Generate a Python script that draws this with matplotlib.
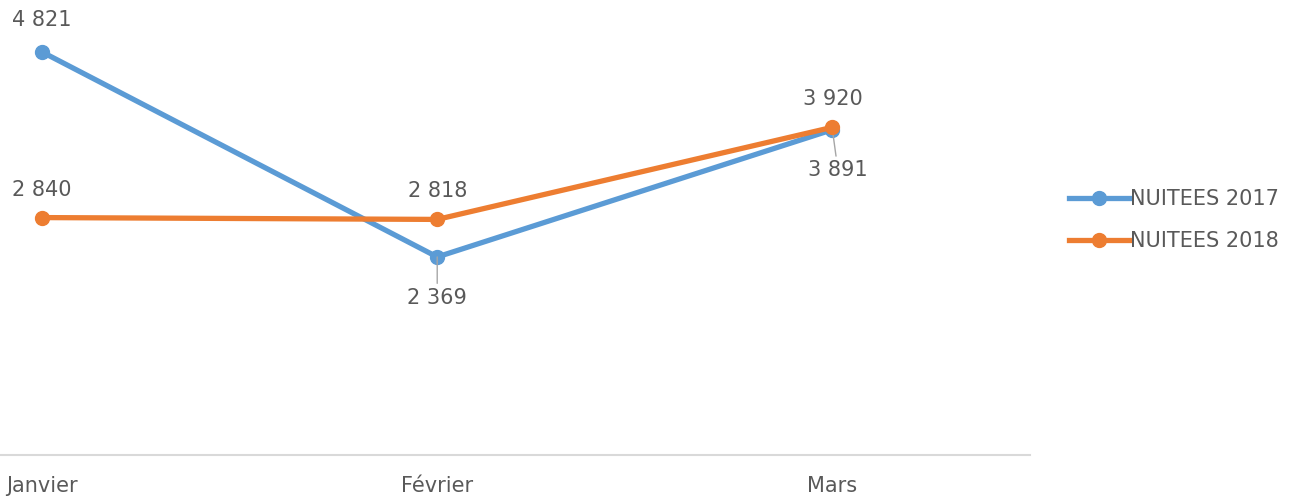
import matplotlib.pyplot as plt

# données
mois = ['Janvier', 'Février', 'Mars']
nuitees_2017 = [4821, 2369, 3891]
nuitees_2018 = [2840, 2818, 3920]
labels_2017 = ['4 821', '2 369', '3 891']
labels_2018 = ['2 840', '2 818', '3 920']

bleu = '#5B9BD5'
orange = '#ED7D31'
gris_txt = '#595959'

plt.rcParams['font.family'] = ['DejaVu Sans']

fig = plt.figure(figsize=(12.96, 4.96), dpi=100)
ax = fig.add_axes([0, 41 / 496, 1030 / 1296, 455 / 496])

x = list(range(len(mois)))
ax.plot(x, nuitees_2017, color=bleu, lw=3.8, marker='o', ms=10, label='NUITEES 2017', zorder=3)
ax.plot(x, nuitees_2018, color=orange, lw=3.8, marker='o', ms=10, label='NUITEES 2018', zorder=4)

ax.set_xlim(-42 / 395, 2.5)
ax.set_ylim(0, 455 / 0.0836)

fs = 15
# étiquettes 2017
ax.annotate(labels_2017[0], (0, nuitees_2017[0]), xytext=(0, 16), textcoords='offset points',
            ha='center', va='bottom', fontsize=fs, color=gris_txt)
ax.annotate(labels_2017[1], (1, nuitees_2017[1]), xytext=(0, -22), textcoords='offset points',
            ha='center', va='top', fontsize=fs, color=gris_txt,
            arrowprops=dict(arrowstyle='-', color='#A6A6A6', lw=1, shrinkA=1, shrinkB=0))
ax.annotate(labels_2017[2], (2, nuitees_2017[2]), xytext=(4, -22), textcoords='offset points',
            ha='center', va='top', fontsize=fs, color=gris_txt,
            arrowprops=dict(arrowstyle='-', color='#A6A6A6', lw=1, shrinkA=1, shrinkB=0))
# étiquettes 2018
for i in range(len(mois)):
    ax.annotate(labels_2018[i], (i, nuitees_2018[i]), xytext=(0, 13), textcoords='offset points',
                ha='center', va='bottom', fontsize=fs, color=gris_txt)

ax.set_xticks(x)
ax.set_xticklabels(mois, fontsize=fs, color=gris_txt)
ax.tick_params(axis='x', length=0, pad=15)
ax.set_yticks([])
for s in ['top', 'left', 'right']:
    ax.spines[s].set_visible(False)
ax.spines['bottom'].set_color('#D9D9D9')
ax.spines['bottom'].set_linewidth(1.5)

leg = fig.legend(loc='center left', bbox_to_anchor=(1050 / 1296, 1 - 220 / 496), frameon=False,
                 fontsize=fs, handlelength=2.9, handletextpad=0.05, labelspacing=1.05,
                 labelcolor=gris_txt)

fig.savefig('out.png', dpi=100)
